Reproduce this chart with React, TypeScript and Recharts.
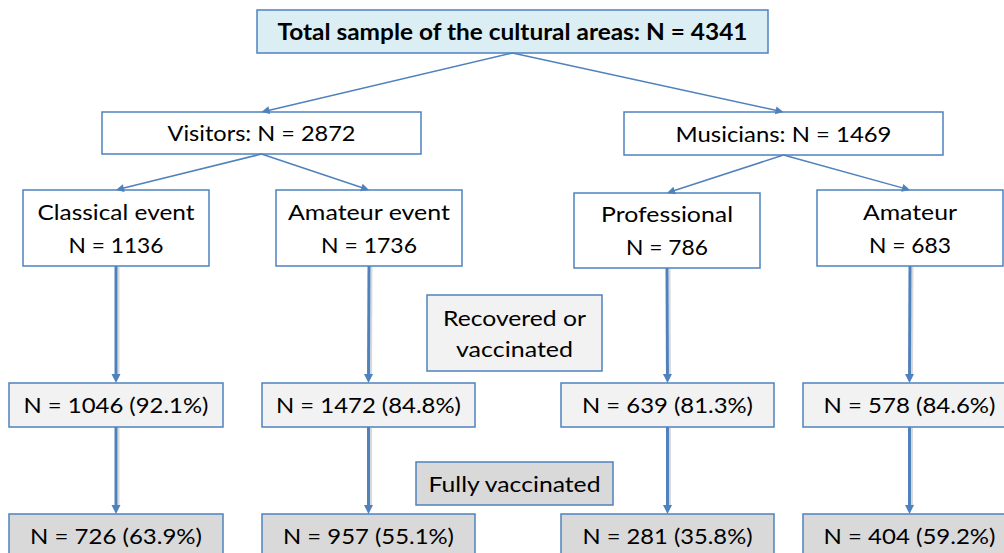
import React from 'react';
import { ScatterChart, Scatter, XAxis, YAxis, ReferenceArea, ReferenceLine } from 'recharts';

// ---------- data ----------
const totalLabel = 'Total sample of the cultural areas';
const totalN = 4341;
const groupLabels = ['Visitors', 'Musicians'];
const groupN = [2872, 1469];
const subLabels = ['Classical event', 'Amateur event', 'Professional', 'Amateur'];
const subN = [1136, 1736, 786, 683];
const recoveredN = [1046, 1472, 639, 578];
const recoveredPct = [92.1, 84.8, 81.3, 84.6];
const fullyN = [726, 957, 281, 404];
const fullyPct = [63.9, 55.1, 35.8, 59.2];
const stageLabels = [['Recovered or', 'vaccinated'], ['Fully vaccinated']];

// ---------- layout (data coords = pixel grid) ----------
const W = 1004;
const H = 553;
const FONT = 'Lato, "Open Sans", "DejaVu Sans", sans-serif';
const BLUE = '#4f81bd';

type Box = { x1: number; x2: number; y1: number; y2: number };
const topBox: Box = { x1: 257, x2: 768, y1: 10, y2: 53 };
const groupBoxes: Box[] = [
  { x1: 102, x2: 421, y1: 112, y2: 154 },
  { x1: 624, x2: 943, y1: 112, y2: 155 },
];
const subBoxes: Box[] = [
  { x1: 23, x2: 209, y1: 190, y2: 266 },
  { x1: 276, x2: 462, y1: 190, y2: 266 },
  { x1: 574, x2: 760, y1: 193, y2: 268 },
  { x1: 817, x2: 1003, y1: 190, y2: 266 },
];
const colX: [number, number][] = [[9, 223], [262, 475], [561, 774], [803, 1016]];
const row3Y: [number, number] = [383, 427];
const row4Y: [number, number] = [514, 558];
const stageBoxes: Box[] = [
  { x1: 427, x2: 602, y1: 295, y2: 371 },
  { x1: 416, x2: 613, y1: 462, y2: 505 },
];

const topWidths = [470];
const groupWidths = [[188], [216]];
const subWidths = [[157, 95], [162, 96], [132, 82], [94, 82]];
const row3Widths = [185, 185, 171, 172];
const row4Widths = [172, 171, 170, 172];
const stageWidths = [[143, 117], [172]];

const fmt = (n: number, p: number) => `N = ${n} (${p.toFixed(1)}%)`;

type NodeDef = { box: Box; lines: string[]; widths: number[]; fill: string; bold?: boolean; gap?: number };

const nodes: NodeDef[] = [
  { box: topBox, lines: [`${totalLabel}: N = ${totalN}`], widths: topWidths, fill: '#dbeef4', bold: true },
  ...groupLabels.map((g, i) => ({ box: groupBoxes[i], lines: [`${g}: N = ${groupN[i]}`], widths: groupWidths[i], fill: '#ffffff' })),
  ...subLabels.map((s, i) => ({ box: subBoxes[i], lines: [s, `N = ${subN[i]}`], widths: subWidths[i], fill: '#ffffff' })),
  ...recoveredN.map((n, i) => ({ box: { x1: colX[i][0], x2: colX[i][1], y1: row3Y[0], y2: row3Y[1] }, lines: [fmt(n, recoveredPct[i])], widths: [row3Widths[i]], fill: '#f2f2f2' })),
  ...fullyN.map((n, i) => ({ box: { x1: colX[i][0], x2: colX[i][1], y1: row4Y[0], y2: row4Y[1] }, lines: [fmt(n, fullyPct[i])], widths: [row4Widths[i]], fill: '#d9d9d9' })),
  { box: stageBoxes[0], lines: stageLabels[0], widths: stageWidths[0], fill: '#f2f2f2', gap: 31 },
  { box: stageBoxes[1], lines: stageLabels[1], widths: stageWidths[1], fill: '#d9d9d9' },
];

const bottomCenter = (b: Box) => ({ x: (b.x1 + b.x2) / 2, y: b.y2 });
const topCenter = (b: Box) => ({ x: (b.x1 + b.x2) / 2, y: b.y1 });

type EdgeDef = { from: { x: number; y: number }; to: { x: number; y: number }; thick: boolean };
const edges: EdgeDef[] = [
  ...groupBoxes.map((g) => ({ from: bottomCenter(topBox), to: topCenter(g), thick: false })),
  ...subBoxes.map((s, i) => ({ from: bottomCenter(groupBoxes[i < 2 ? 0 : 1]), to: topCenter(s), thick: false })),
  ...subBoxes.map((s, i) => ({ from: bottomCenter(s), to: { x: (colX[i][0] + colX[i][1]) / 2, y: row3Y[0] }, thick: true })),
  ...colX.map((c) => ({ from: { x: (c[0] + c[1]) / 2, y: row3Y[1] }, to: { x: (c[0] + c[1]) / 2, y: row4Y[0] }, thick: true })),
];

function BoxLabel(props: any) {
  const { viewBox, lines, widths, bold, gap = 33 } = props;
  if (!viewBox) return null;
  const cx = viewBox.x + viewBox.width / 2;
  const cy = viewBox.y + viewBox.height / 2;
  const n = lines.length;
  return (
    <g>
      {lines.map((t: string, i: number) => (
        <text
          key={i}
          x={cx}
          y={cy + (i - (n - 1) / 2) * gap + 8}
          textAnchor="middle"
          fontFamily={FONT}
          fontSize={22}
          fontWeight={bold ? 700 : 400}
          fill="#000"
          textLength={widths[i]}
          lengthAdjust="spacingAndGlyphs"
        >
          {t}
        </text>
      ))}
    </g>
  );
}

const makeArrow = (thick: boolean) => (props: any) => {
  const { x1, y1, x2, y2 } = props;
  if ([x1, y1, x2, y2].some((v) => v == null || isNaN(v))) return null;
  const dx = x2 - x1;
  const dy = y2 - y1;
  const len = Math.sqrt(dx * dx + dy * dy) || 1;
  const ux = dx / len;
  const uy = dy / len;
  const hl = thick ? 9 : 8;
  const hw = thick ? 4.5 : 4;
  const bx = x2 - ux * hl;
  const by = y2 - uy * hl;
  const pts = `${x2},${y2} ${bx - uy * hw},${by + ux * hw} ${bx + uy * hw},${by - ux * hw}`;
  const sw = thick ? 3 : 1.5;
  return (
    <g>
      {thick && (
        <line x1={x1 + 2.5} y1={y1 + 1} x2={bx + 2.5} y2={by + 1} stroke="rgba(0,0,0,0.15)" strokeWidth={2} />
      )}
      <line x1={x1} y1={y1} x2={bx + ux * 1} y2={by + uy * 1} stroke={BLUE} strokeWidth={sw} />
      <polygon points={pts} fill={BLUE} />
    </g>
  );
};

const centers = nodes.map((n) => ({ x: (n.box.x1 + n.box.x2) / 2, y: (n.box.y1 + n.box.y2) / 2 }));

export default function App() {
  return (
    <div style={{ position: 'absolute', left: 0, top: 0, width: W, height: H, background: '#fff' }}>
      <ScatterChart width={W} height={H} margin={{ top: 0, right: 0, bottom: 0, left: 0 }}>
        <XAxis type="number" dataKey="x" domain={[0, W]} hide allowDataOverflow />
        <YAxis type="number" dataKey="y" domain={[0, H]} reversed hide allowDataOverflow />
        {edges.map((e, i) => (
          <ReferenceLine
            key={`e${i}`}
            segment={[e.from, e.to]}
            ifOverflow="visible"
            stroke={BLUE}
            shape={makeArrow(e.thick)}
          />
        ))}
        {nodes.map((n, i) => (
          <ReferenceArea
            key={`n${i}`}
            x1={n.box.x1}
            x2={n.box.x2}
            y1={n.box.y1}
            y2={n.box.y2}
            ifOverflow="visible"
            fill={n.fill}
            fillOpacity={1}
            stroke={BLUE}
            strokeWidth={1.5}
            label={<BoxLabel lines={n.lines} widths={n.widths} bold={n.bold} gap={n.gap} />}
          />
        ))}
        <Scatter data={centers} isAnimationActive={false} shape={() => <g />} />
      </ScatterChart>
    </div>
  );
}
